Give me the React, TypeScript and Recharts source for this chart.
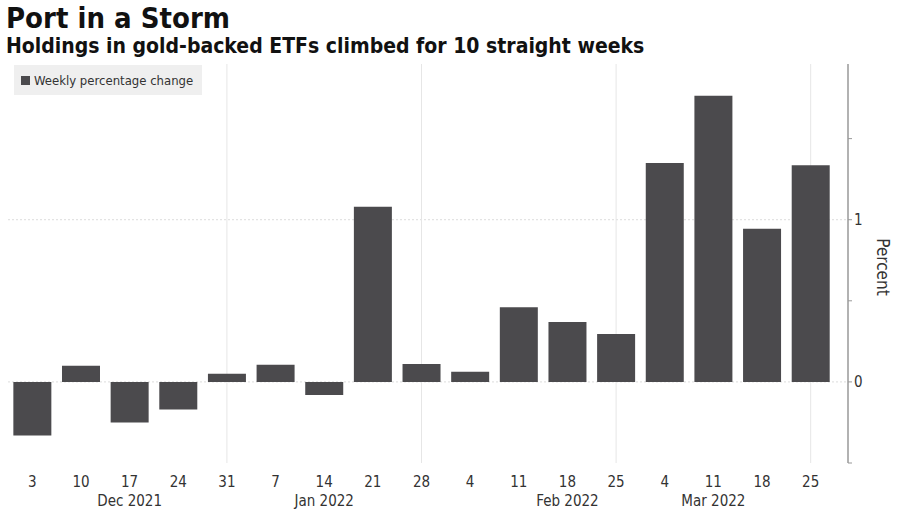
import React from 'react';
import {
  BarChart,
  Bar,
  XAxis,
  YAxis,
  CartesianGrid,
} from 'recharts';

// week ending dates (unique keys), day labels, month labels under the 3rd week of each month
const weeks = [
  '2021-12-03', '2021-12-10', '2021-12-17', '2021-12-24', '2021-12-31',
  '2022-01-07', '2022-01-14', '2022-01-21', '2022-01-28',
  '2022-02-04', '2022-02-11', '2022-02-18', '2022-02-25',
  '2022-03-04', '2022-03-11', '2022-03-18', '2022-03-25',
];
const dayLabels = ['3', '10', '17', '24', '31', '7', '14', '21', '28', '4', '11', '18', '25', '4', '11', '18', '25'];
const monthLabels = ['', '', 'Dec 2021', '', '', '', 'Jan 2022', '', '', '', '', 'Feb 2022', '', '', 'Mar 2022', '', ''];
const weeklyChange = [
  -0.33, 0.1, -0.25, -0.17, 0.05, 0.105, -0.08, 1.08, 0.11,
  0.062, 0.46, 0.37, 0.295, 1.35, 1.765, 0.945, 1.335,
];
const gridWeeks = ['2021-12-31', '2022-01-28', '2022-02-25', '2022-03-25'];
const yTicks = [-0.5, 0, 0.5, 1, 1.5];
const yGrid = [0, 1];

const data = weeks.map((w, i) => ({ week: w, value: weeklyChange[i] }));

const FONT = '"DejaVu Sans Condensed", "DejaVu Sans", sans-serif';

function DateTick(props: any) {
  const { x, y, index } = props;
  return (
    <g>
      <text x={x} y={y} dy={16} textAnchor="middle" fontSize={15} fill="#333" fontFamily={FONT}>
        {dayLabels[index]}
      </text>
      {monthLabels[index] && (
        <text x={x} y={y} dy={35} textAnchor="middle" fontSize={15} fill="#333" fontFamily={FONT}>
          {monthLabels[index]}
        </text>
      )}
    </g>
  );
}

function ValueTick(props: any) {
  const { x, y, payload } = props;
  const major = Number.isInteger(payload.value);
  return (
    <g>
      <line x1={x - 6} x2={x - 2} y1={y} y2={y} stroke="#999" strokeWidth={1} />
      {major && (
        <text x={x} y={y} dy={5} textAnchor="start" fontSize={15} fill="#333" fontFamily={FONT}>
          {payload.value}
        </text>
      )}
    </g>
  );
}

export default function App() {
  return (
    <div
      style={{
        position: 'absolute',
        left: 0,
        top: 0,
        width: 900,
        height: 510,
        background: '#fff',
        fontFamily: FONT,
        overflow: 'hidden',
      }}
    >
      <div style={{ position: 'absolute', left: 6, top: 1, fontSize: 29, fontWeight: 'bold', color: '#111' }}>
        Port in a Storm
      </div>
      <div style={{ position: 'absolute', left: 6, top: 34, fontSize: 21, fontWeight: 'bold', color: '#111' }}>
        Holdings in gold-backed ETFs climbed for 10 straight weeks
      </div>
      <BarChart
        width={900}
        height={510}
        data={data}
        margin={{ top: 64, right: 0, bottom: 0, left: 8 }}
        barCategoryGap="11%"
      >
        <CartesianGrid vertical={false} horizontalValues={yGrid} stroke="#dcdcdc" strokeDasharray="2 2" />
        <CartesianGrid horizontal={false} verticalValues={gridWeeks} stroke="#e6e6e6" />
        <XAxis
          dataKey="week"
          axisLine={false}
          tickLine={false}
          interval={0}
          height={47}
          padding={{ left: 0, right: 13 }}
          tick={<DateTick />}
        />
        <YAxis
          orientation="right"
          width={52}
          domain={[-0.5, 1.96]}
          ticks={yTicks}
          axisLine={{ stroke: '#999', strokeWidth: 1.5 }}
          tickLine={false}
          tick={<ValueTick />}
          tickMargin={0}
        />
        <Bar dataKey="value" fill="#4b4a4d" isAnimationActive={false} />
      </BarChart>
      <div
        style={{
          position: 'absolute',
          left: 14,
          top: 65,
          width: 188,
          height: 30,
          background: '#efefef',
          display: 'flex',
          alignItems: 'center',
          fontSize: 13,
          color: '#333',
          whiteSpace: 'nowrap',
        }}
      >
        <span style={{ display: 'inline-block', width: 9, height: 9, background: '#4b4a4d', marginLeft: 7, marginRight: 4 }} />
        Weekly percentage change
      </div>
      <div
        style={{
          position: 'absolute',
          left: 883,
          top: 267,
          transform: 'translate(-50%, -50%) rotate(90deg)',
          fontSize: 17,
          color: '#333',
          whiteSpace: 'nowrap',
        }}
      >
        Percent
      </div>
    </div>
  );
}
